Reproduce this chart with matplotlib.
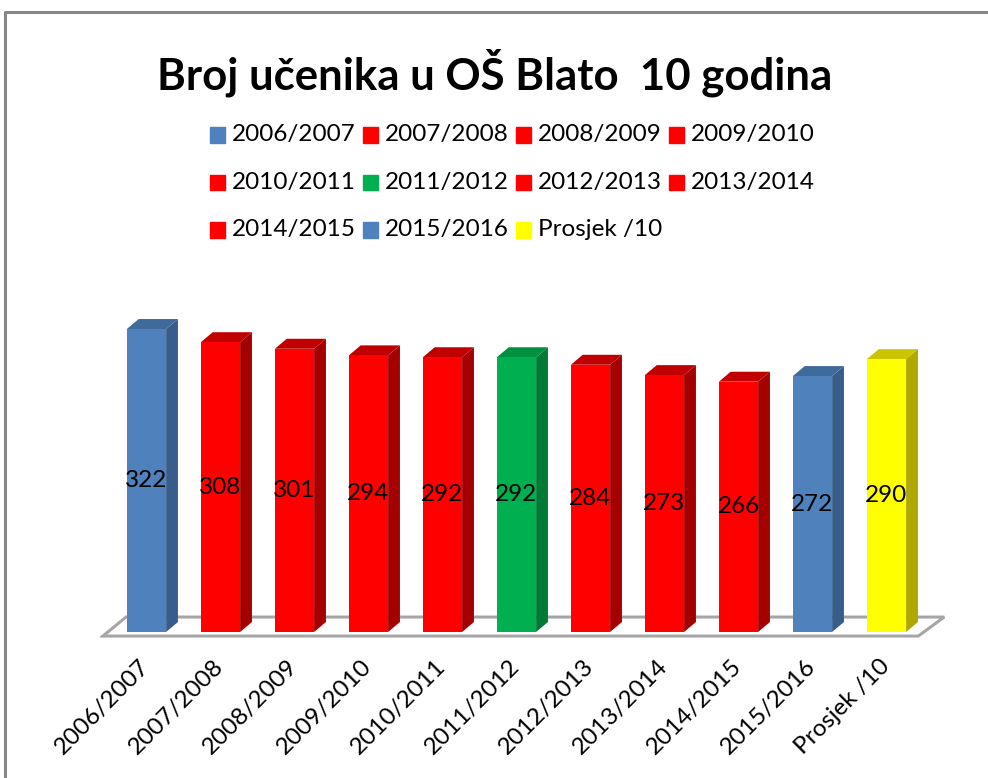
import matplotlib.pyplot as plt
from matplotlib.patches import Polygon, Rectangle
from matplotlib.lines import Line2D

# podaci
godine = ['2006/2007', '2007/2008', '2008/2009', '2009/2010', '2010/2011', '2011/2012',
          '2012/2013', '2013/2014', '2014/2015', '2015/2016', 'Prosjek /10']
ucenici = [322, 308, 301, 294, 292, 292, 284, 273, 266, 272, 290]
boje = ['#4F81BD', '#FF0000', '#FF0000', '#FF0000', '#FF0000', '#00B050',
        '#FF0000', '#FF0000', '#FF0000', '#4F81BD', '#FFFF00']
boje_bok = {'#4F81BD': '#385D8A', '#FF0000': '#A50000', '#00B050': '#007A37', '#FFFF00': '#AFA800'}
boje_vrh = {'#4F81BD': '#3F6A9C', '#FF0000': '#C00000', '#00B050': '#009040', '#FFFF00': '#CCC400'}

plt.rcParams['font.family'] = ['Lato', 'DejaVu Sans']

W, H = 988, 778
fig = plt.figure(figsize=(W / 100, H / 100), dpi=100)

# okvir grafikona (samo lijevi i gornji rub su vidljivi)
fig.add_artist(Line2D([5 / W, 5 / W, 1], [0, 1 - 12 / H, 1 - 12 / H],
                      color='#868686', lw=2.2, transform=fig.transFigure))

# naslov
fig.text(495 / W, 1 - 73 / H, 'Broj učenika u OŠ Blato  10 godina',
         ha='center', va='center', fontsize=31.5, fontweight='bold')

# legenda, red po red
for i, (lab, col) in enumerate(zip(godine, boje)):
    r, c = divmod(i, 4)
    mx = 210 + 153 * c
    my = 135 + 47.5 * r
    fig.add_artist(Rectangle((mx / W, 1 - (my + 7.5) / H), 15 / W, 15 / H,
                             color=col, transform=fig.transFigure))
    fig.text((mx + 22) / W, 1 - my / H, lab, ha='left', va='center', fontsize=17.5)

# osi: 74 px po kategoriji, 0.941 px po ucenika
ax = fig.add_axes([100 / W, 1 - 640 / H, 850 / W, 340 / H])
ax.set_xlim((100 - 146.5) / 74, (950 - 146.5) / 74)
ax.set_ylim(-8 / 0.941, 332 / 0.941)
ax.axis('off')

sirina = 0.53
dx, dy = 0.16, 10.6

# pod
pod = Polygon([(-0.588, -4.3), (10.43, -4.3), (10.78, 15.9), (-0.277, 15.9)],
              closed=True, facecolor='white', edgecolor='#A6A6A6', lw=2.2, zorder=1)
ax.add_patch(pod)

x = list(range(len(godine)))
ax.bar(x, ucenici, width=sirina, color=boje, edgecolor='none', zorder=3)
for xi, v, col in zip(x, ucenici, boje):
    d = xi + sirina / 2
    l = xi - sirina / 2
    ax.add_patch(Polygon([(d, 0), (d + dx, dy), (d + dx, v + dy), (d, v)],
                         closed=True, facecolor=boje_bok[col], edgecolor='none', zorder=2))
    ax.add_patch(Polygon([(l, v), (d, v), (d + dx, v + dy), (l + dx, v + dy)],
                         closed=True, facecolor=boje_vrh[col], edgecolor='none', zorder=2))
    ax.text(xi, v / 2, str(v), ha='center', va='center', fontsize=17.5, zorder=5)
    ax.text(xi + 0.0, -33, godine[xi], rotation=45, rotation_mode='anchor',
            ha='right', va='center', fontsize=17.5, clip_on=False)

fig.savefig('out.png', dpi=100)
